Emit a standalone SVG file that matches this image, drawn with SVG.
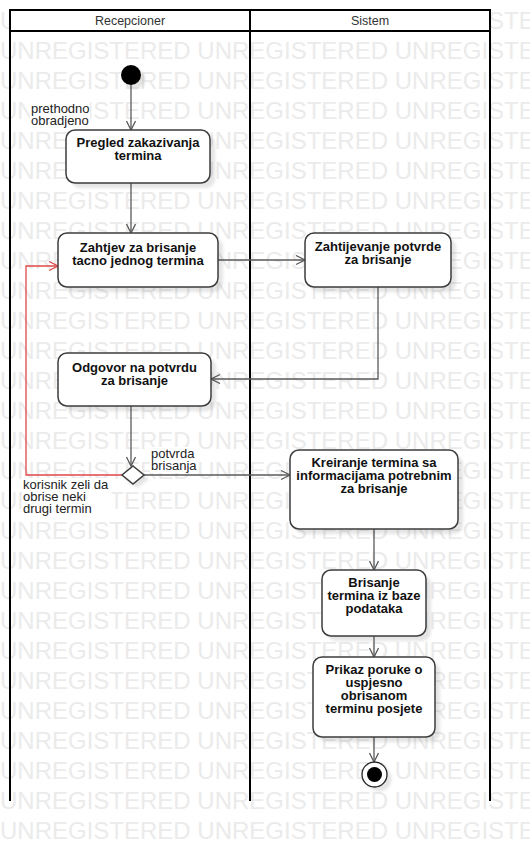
<svg xmlns="http://www.w3.org/2000/svg" width="530" height="842" viewBox="0 0 530 842">
  <style>
    .wm { font-family: "Liberation Sans", Arial, sans-serif; font-size: 24px; fill: #ebebeb; }
    .frame { fill: none; stroke: #000; stroke-width: 2; }
    .head { fill: #fff; stroke: #000; stroke-width: 2; }
    .lane-title { font-family: "Liberation Sans", Arial, sans-serif; font-size: 12.5px; fill: #333; text-anchor: middle; }
    .box { fill: #fff; stroke: #3c3c3c; stroke-width: 1.5; }
    .shadow { fill: #000; fill-opacity: 0.1; filter: url(#soft); }
    .title { font-family: "Liberation Sans", Arial, sans-serif; font-size: 13px; font-weight: bold; fill: #111; text-anchor: middle; }
    .lbl { font-family: "Liberation Sans", Arial, sans-serif; font-size: 13px; fill: #222; }
    .lbl-bg { fill: #fff; }
    .conn { fill: none; stroke: #5a5a5a; stroke-width: 1.3; marker-end: url(#open); }
    .alt { fill: none; stroke: #e04848; stroke-width: 1.3; marker-end: url(#open-red); }
  </style>
  <defs>
    <filter id="soft" x="-20%" y="-20%" width="140%" height="140%">
      <feGaussianBlur stdDeviation="1.5"/>
    </filter>
    <marker id="open" markerWidth="12" markerHeight="12" refX="10" refY="5" orient="auto" markerUnits="userSpaceOnUse">
      <path d="M1,0.5 L10,5 L1,9.5" fill="none" stroke="#5a5a5a" stroke-width="1.3"/>
    </marker>
    <marker id="open-red" markerWidth="12" markerHeight="12" refX="10" refY="5" orient="auto" markerUnits="userSpaceOnUse">
      <path d="M1,0.5 L10,5 L1,9.5" fill="none" stroke="#e04848" stroke-width="1.3"/>
    </marker>
  </defs>

  <!-- background watermark rows -->
  <g id="watermark">
    <text class="wm" x="0" y="29">UNREGISTERED UNREGISTERED UNREGISTERED</text>
    <text class="wm" x="0" y="59">UNREGISTERED UNREGISTERED UNREGISTERED</text>
    <text class="wm" x="0" y="89">UNREGISTERED UNREGISTERED UNREGISTERED</text>
    <text class="wm" x="0" y="119">UNREGISTERED UNREGISTERED UNREGISTERED</text>
    <text class="wm" x="0" y="149">UNREGISTERED UNREGISTERED UNREGISTERED</text>
    <text class="wm" x="0" y="179">UNREGISTERED UNREGISTERED UNREGISTERED</text>
    <text class="wm" x="0" y="209">UNREGISTERED UNREGISTERED UNREGISTERED</text>
    <text class="wm" x="0" y="239">UNREGISTERED UNREGISTERED UNREGISTERED</text>
    <text class="wm" x="0" y="269">UNREGISTERED UNREGISTERED UNREGISTERED</text>
    <text class="wm" x="0" y="299">UNREGISTERED UNREGISTERED UNREGISTERED</text>
    <text class="wm" x="0" y="329">UNREGISTERED UNREGISTERED UNREGISTERED</text>
    <text class="wm" x="0" y="359">UNREGISTERED UNREGISTERED UNREGISTERED</text>
    <text class="wm" x="0" y="389">UNREGISTERED UNREGISTERED UNREGISTERED</text>
    <text class="wm" x="0" y="419">UNREGISTERED UNREGISTERED UNREGISTERED</text>
    <text class="wm" x="0" y="449">UNREGISTERED UNREGISTERED UNREGISTERED</text>
    <text class="wm" x="0" y="479">UNREGISTERED UNREGISTERED UNREGISTERED</text>
    <text class="wm" x="0" y="509">UNREGISTERED UNREGISTERED UNREGISTERED</text>
    <text class="wm" x="0" y="539">UNREGISTERED UNREGISTERED UNREGISTERED</text>
    <text class="wm" x="0" y="569">UNREGISTERED UNREGISTERED UNREGISTERED</text>
    <text class="wm" x="0" y="599">UNREGISTERED UNREGISTERED UNREGISTERED</text>
    <text class="wm" x="0" y="629">UNREGISTERED UNREGISTERED UNREGISTERED</text>
    <text class="wm" x="0" y="659">UNREGISTERED UNREGISTERED UNREGISTERED</text>
    <text class="wm" x="0" y="689">UNREGISTERED UNREGISTERED UNREGISTERED</text>
    <text class="wm" x="0" y="719">UNREGISTERED UNREGISTERED UNREGISTERED</text>
    <text class="wm" x="0" y="749">UNREGISTERED UNREGISTERED UNREGISTERED</text>
    <text class="wm" x="0" y="779">UNREGISTERED UNREGISTERED UNREGISTERED</text>
    <text class="wm" x="0" y="809">UNREGISTERED UNREGISTERED UNREGISTERED</text>
    <text class="wm" x="0" y="839">UNREGISTERED UNREGISTERED UNREGISTERED</text>
  </g>

  <!-- swimlanes -->
  <g id="lanes">
    <rect class="head" x="10" y="10" width="480" height="21"/>
    <path class="frame" d="M10,31 V801 M250,10 V801 M490,31 V801"/>
    <text class="lane-title" x="130" y="25">Recepcioner</text>
    <text class="lane-title" x="370" y="25">Sistem</text>
  </g>

  <!-- connectors -->
  <g id="connectors">
    <path class="conn" d="M131,85 V130"/>
    <path class="conn" d="M131,183 V233"/>
    <path class="conn" d="M218,260 H305"/>
    <path class="conn" d="M378,287 V379 H211"/>
    <path class="conn" d="M131,406 V466"/>
    <path class="conn" d="M144,475 H290"/>
    <path class="alt" d="M122,475 H26 V266 H58"/>
    <path class="conn" d="M374,529 V570"/>
    <path class="conn" d="M374,636 V657"/>
    <path class="conn" d="M374,737 V762"/>
    <g id="label-prethodno">
      <rect class="lbl-bg" x="30" y="102" width="60" height="26"/>
      <text class="lbl" x="31" y="113">prethodno</text>
      <text class="lbl" x="31" y="125">obradjeno</text>
    </g>
    <g id="label-potvrda">
      <rect class="lbl-bg" x="150" y="447" width="48" height="26"/>
      <text class="lbl" x="151" y="458">potvrda</text>
      <text class="lbl" x="151" y="470">brisanja</text>
    </g>
    <g id="label-korisnik">
      <rect class="lbl-bg" x="22" y="478" width="90" height="39"/>
      <text class="lbl" x="23" y="489">korisnik zeli da</text>
      <text class="lbl" x="23" y="501">obrise neki</text>
      <text class="lbl" x="23" y="513">drugi termin</text>
    </g>
  </g>

  <!-- activity nodes -->
  <g id="start">
    <circle class="shadow" cx="135" cy="79" r="10"/>
    <circle cx="131" cy="75" r="10" fill="#000"/>
  </g>

  <g id="pregled">
    <rect class="shadow" x="71" y="135" width="144" height="53" rx="9"/>
    <rect class="box" x="66" y="130" width="144" height="53" rx="9"/>
    <text class="title" x="138" y="147">Pregled zakazivanja</text>
    <text class="title" x="138" y="160">termina</text>
  </g>

  <g id="zahtjev">
    <rect class="shadow" x="63" y="238" width="160" height="54" rx="9"/>
    <rect class="box" x="58" y="233" width="160" height="54" rx="9"/>
    <text class="title" x="138" y="252">Zahtjev za brisanje</text>
    <text class="title" x="138" y="265">tacno jednog termina</text>
  </g>

  <g id="zahtijevanje">
    <rect class="shadow" x="310" y="238" width="146" height="54" rx="9"/>
    <rect class="box" x="305" y="233" width="146" height="54" rx="9"/>
    <text class="title" x="378" y="251">Zahtijevanje potvrde</text>
    <text class="title" x="378" y="264">za brisanje</text>
  </g>

  <g id="odgovor">
    <rect class="shadow" x="63" y="358" width="153" height="53" rx="9"/>
    <rect class="box" x="58" y="353" width="153" height="53" rx="9"/>
    <text class="title" x="134.5" y="372">Odgovor na potvrdu</text>
    <text class="title" x="134.5" y="385">za brisanje</text>
  </g>

  <g id="odluka">
    <path class="shadow" d="M137,470 L149,479 L137,488 L125,479 Z"/>
    <path class="box" d="M133,466 L144,475 L133,484 L122,475 Z"/>
  </g>

  <g id="kreiranje">
    <rect class="shadow" x="295" y="455" width="168" height="79" rx="9"/>
    <rect class="box" x="290" y="450" width="168" height="79" rx="9"/>
    <text class="title" x="374" y="467">Kreiranje termina sa</text>
    <text class="title" x="374" y="480">informacijama potrebnim</text>
    <text class="title" x="374" y="493">za brisanje</text>
  </g>

  <g id="brisanje">
    <rect class="shadow" x="327" y="575" width="104" height="66" rx="9"/>
    <rect class="box" x="322" y="570" width="104" height="66" rx="9"/>
    <text class="title" x="374" y="587">Brisanje</text>
    <text class="title" x="374" y="600">termina iz baze</text>
    <text class="title" x="374" y="613">podataka</text>
  </g>

  <g id="prikaz">
    <rect class="shadow" x="318" y="662" width="122" height="80" rx="9"/>
    <rect class="box" x="313" y="657" width="122" height="80" rx="9"/>
    <text class="title" x="374" y="674">Prikaz poruke o</text>
    <text class="title" x="374" y="687">uspjesno</text>
    <text class="title" x="374" y="700">obrisanom</text>
    <text class="title" x="374" y="713">terminu posjete</text>
  </g>

  <g id="kraj">
    <circle class="shadow" cx="379" cy="779" r="12.5"/>
    <circle cx="374.5" cy="774.5" r="12.5" fill="#fff" stroke="#222" stroke-width="1.3"/>
    <circle cx="374.5" cy="774.5" r="7.5" fill="#000"/>
  </g>
</svg>
